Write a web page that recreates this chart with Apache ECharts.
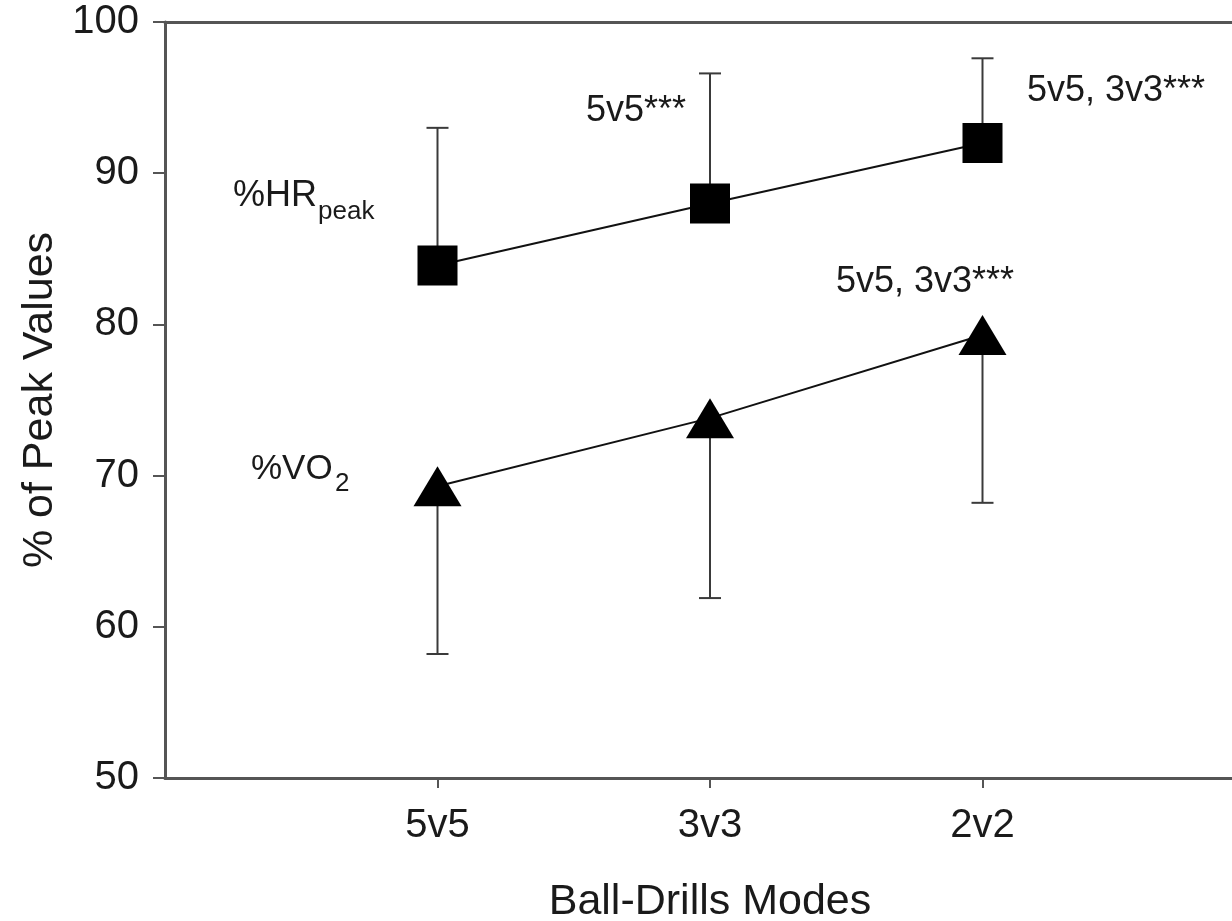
<!DOCTYPE html>
<html>
<head>
<meta charset="utf-8">
<script src="https://cdn.jsdelivr.net/npm/echarts@6/dist/echarts.min.js"></script>
<style>
html,body{margin:0;padding:0;background:#fff;}
#chart{width:1232px;height:921px;}
</style>
</head>
<body>
<div id="chart"></div>
<script>
// ---- data ----
const categories = ['5v5', '3v3', '2v2'];
const hrPeakMean = [83.9, 88.0, 92.0];
const hrPeakSD   = [9.1, 8.6, 5.6];
const vo2Mean    = [69.3, 73.8, 79.3];
const vo2SD      = [11.1, 11.9, 11.1];
const yTicks     = [50, 60, 70, 80, 90, 100];

const FONT = '"Liberation Sans", Arial, Helvetica, sans-serif';
const chart = echarts.init(document.getElementById('chart'), null, {renderer: 'canvas'});

const hrData  = categories.map((c, i) => [i + 1, hrPeakMean[i]]);
const vo2Data = categories.map((c, i) => [i + 1, vo2Mean[i]]);
// error bars: HR upward, VO2 downward
const hrErr  = categories.map((c, i) => [i + 1, hrPeakMean[i], hrPeakMean[i] + hrPeakSD[i]]);
const vo2Err = categories.map((c, i) => [i + 1, vo2Mean[i], vo2Mean[i] - vo2SD[i]]);

function errRender(params, api) {
  const x = api.value(0);
  const p0 = api.coord([x, api.value(1)]);
  const p1 = api.coord([x, api.value(2)]);
  const hw = 11;
  const style = {stroke: '#3a3a3a', lineWidth: 2, fill: null};
  return {
    type: 'group',
    children: [
      {type: 'line', shape: {x1: p0[0], y1: p0[1], x2: p1[0], y2: p1[1]}, style: style},
      {type: 'line', shape: {x1: p1[0] - hw, y1: p1[1], x2: p1[0] + hw, y2: p1[1]}, style: style}
    ]
  };
}

const axisLineStyle = {color: '#555', width: 3};

const option = {
  backgroundColor: '#fff',
  animation: false,
  grid: {left: 165, top: 22, width: 1090, height: 756, containLabel: false, outerBoundsMode: 'none'},
  xAxis: [{
    type: 'value', min: 0, max: 4, interval: 1,
    name: 'Ball-Drills Modes', nameLocation: 'middle', nameGap: 103,
    nameTextStyle: {fontFamily: FONT, fontSize: 43, color: '#1a1a1a'},
    axisLine: {show: true, lineStyle: axisLineStyle},
    axisTick: {show: true, length: 10, lineStyle: {color: '#555', width: 2}, customValues: [1, 2, 3]},
    axisLabel: {
      show: true, margin: 28, fontFamily: FONT, fontSize: 40, color: '#1a1a1a',
      customValues: [1, 2, 3],
      formatter: v => categories[Math.round(v) - 1] || ''
    },
    splitLine: {show: false}
  }, {
    type: 'value', min: 0, max: 4, position: 'top',
    axisLine: {show: true, lineStyle: axisLineStyle},
    axisTick: {show: false}, axisLabel: {show: false}, splitLine: {show: false}
  }],
  yAxis: {
    type: 'value', min: yTicks[0], max: yTicks[yTicks.length - 1], interval: 10,
    name: '% of Peak Values', nameLocation: 'middle', nameGap: 100, nameRotate: 90,
    nameTextStyle: {fontFamily: FONT, fontSize: 43, color: '#1a1a1a'},
    axisLine: {show: true, lineStyle: axisLineStyle},
    axisTick: {show: true, length: 12, lineStyle: {color: '#555', width: 2}},
    axisLabel: {margin: 26, fontFamily: FONT, fontSize: 40, color: '#1a1a1a'},
    splitLine: {show: false}
  },
  series: [
    {type: 'custom', renderItem: errRender, data: hrErr, z: 1, encode: {x: 0, y: [1, 2]}},
    {type: 'custom', renderItem: errRender, data: vo2Err, z: 1, encode: {x: 0, y: [1, 2]}},
    {
      type: 'line', data: hrData, z: 3,
      symbol: 'rect', symbolSize: 40,
      itemStyle: {color: '#000'},
      lineStyle: {color: '#111', width: 2}
    },
    {
      type: 'line', data: vo2Data, z: 3,
      symbol: 'triangle', symbolSize: [48, 40],
      itemStyle: {color: '#000'},
      lineStyle: {color: '#111', width: 2}
    }
  ],
  graphic: [
    {type: 'text', x: 233, y: 196, style: {text: '%HR', font: '36px ' + FONT, fill: '#1a1a1a', textVerticalAlign: 'middle'}},
    {type: 'text', x: 318, y: 212, style: {text: 'peak', font: '26px ' + FONT, fill: '#1a1a1a', textVerticalAlign: 'middle'}},
    {type: 'text', x: 251, y: 469, style: {text: '%VO', font: '35px ' + FONT, fill: '#1a1a1a', textVerticalAlign: 'middle'}},
    {type: 'text', x: 335, y: 484, style: {text: '2', font: '26px ' + FONT, fill: '#1a1a1a', textVerticalAlign: 'middle'}},
    {type: 'text', x: 586, y: 111, style: {text: '5v5***', font: '36px ' + FONT, fill: '#1a1a1a', textVerticalAlign: 'middle'}},
    {type: 'text', x: 1027, y: 91, style: {text: '5v5, 3v3***', font: '36px ' + FONT, fill: '#1a1a1a', textVerticalAlign: 'middle'}},
    {type: 'text', x: 836, y: 282, style: {text: '5v5, 3v3***', font: '36px ' + FONT, fill: '#1a1a1a', textVerticalAlign: 'middle'}}
  ]
};
chart.setOption(option);
</script>
</body>
</html>
